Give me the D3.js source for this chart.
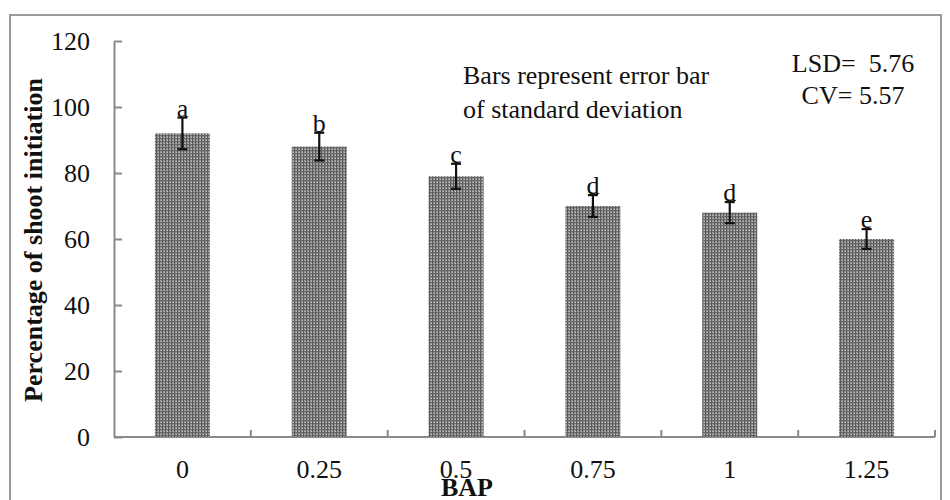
<!DOCTYPE html>
<html><head><meta charset="utf-8">
<script src="https://cdn.jsdelivr.net/npm/d3@7"></script>
<style>body{margin:0;background:#fff}svg{display:block} text{font-family:"Liberation Serif","Times New Roman","DejaVu Serif",serif !important;}</style>
</head><body>
<script>
const categories = ["0","0.25","0.5","0.75","1","1.25"];
const values = [92, 88, 79, 70, 68, 60];
const errors = [4.8, 4.2, 3.8, 3.3, 3.2, 3.0];
const letters = ["a","b","c","d","d","e"];
const yTicks = [0,20,40,60,80,100,120];

const W=950,H=500;
const svg=d3.select("body").append("svg").attr("width",W).attr("height",H);
const FS=26;

const defs=svg.append("defs");
const pat=defs.append("pattern").attr("id","dots").attr("patternUnits","userSpaceOnUse").attr("width",3).attr("height",3);
pat.append("rect").attr("width",3).attr("height",3).attr("fill","#949494");
pat.append("rect").attr("x",0).attr("y",0).attr("width",1).attr("height",3).attr("fill","#555");
pat.append("rect").attr("x",0).attr("y",0).attr("width",3).attr("height",1).attr("fill","#666");
pat.append("rect").attr("x",2).attr("y",2).attr("width",1).attr("height",1).attr("fill","#c4c4c4");

// outer frame
svg.append("rect").attr("x",10).attr("y",15).attr("width",931).attr("height",500)
  .attr("fill","none").attr("stroke","#9a9a9a").attr("stroke-width",2);

const x0=114,x1=935,yTop=41,yBot=437;
const xb=d3.scaleBand().domain(categories).range([x0,x1]);
const y=d3.scaleLinear().domain([0,120]).range([yBot,yTop]);

// y axis
const ya=svg.append("g").attr("transform",`translate(${x0},0)`)
  .call(d3.axisLeft(y).tickValues(yTicks).tickSizeInner(-8).tickSizeOuter(0).tickPadding(24));
ya.select(".domain").attr("stroke","#8a8a8a").attr("stroke-width",2);
ya.selectAll(".tick line").attr("stroke","#8a8a8a").attr("stroke-width",2);
ya.selectAll(".tick text").attr("font-size",FS).attr("fill","#111");

// x axis
const xa=svg.append("g").attr("transform",`translate(0,${yBot})`);
xa.append("line").attr("x1",x0).attr("x2",x1).attr("y1",0).attr("y2",0).attr("stroke","#8a8a8a").attr("stroke-width",2);
xa.selectAll("line.t").data(categories).enter().append("line").attr("class","t")
  .attr("x1",d=>xb(d)+xb.bandwidth()).attr("x2",d=>xb(d)+xb.bandwidth())
  .attr("y1",0).attr("y2",-7).attr("stroke","#8a8a8a").attr("stroke-width",2);
xa.selectAll("text").data(categories).enter().append("text")
  .attr("x",d=>xb(d)+xb.bandwidth()/2).attr("y",41).attr("text-anchor","middle")
  .attr("font-size",FS).attr("fill","#111").text(d=>d);

// bars
const bw=55;
svg.selectAll("rect.bar").data(values).enter().append("rect").attr("class","bar")
  .attr("x",(d,i)=>xb(categories[i])+xb.bandwidth()/2-bw/2).attr("width",bw)
  .attr("y",d=>y(d)).attr("height",d=>yBot-y(d)).attr("fill","url(#dots)");

// error bars
const eb=svg.append("g").attr("stroke","#111").attr("stroke-width",2.2);
values.forEach((v,i)=>{
  const cx=xb(categories[i])+xb.bandwidth()/2;
  eb.append("line").attr("x1",cx).attr("x2",cx).attr("y1",y(v+errors[i])).attr("y2",y(v-errors[i]));
  eb.append("line").attr("x1",cx-5).attr("x2",cx+5).attr("y1",y(v+errors[i])).attr("y2",y(v+errors[i]));
  eb.append("line").attr("x1",cx-5).attr("x2",cx+5).attr("y1",y(v-errors[i])).attr("y2",y(v-errors[i]));
});
svg.selectAll("text.let").data(letters).enter().append("text").attr("class","let")
  .attr("x",(d,i)=>xb(categories[i])+xb.bandwidth()/2)
  .attr("y",(d,i)=>y(values[i]+errors[i])-1).attr("text-anchor","middle")
  .attr("font-size",FS).attr("fill","#111").text(d=>d);

// titles
svg.append("text").attr("transform","translate(42,240) rotate(-90)").attr("text-anchor","middle")
  .attr("font-size",FS).attr("font-weight","bold").attr("fill","#111")
  .text("Percentage of shoot initiation");
svg.append("text").attr("x",467).attr("y",496).attr("text-anchor","middle")
  .attr("font-size",FS).attr("font-weight","bold").attr("fill","#111").text("BAP");

// annotations
const ann=svg.append("g").attr("font-size",FS).attr("fill","#111");
ann.append("text").attr("x",463).attr("y",84).text("Bars represent error bar");
ann.append("text").attr("x",463).attr("y",118).text("of standard deviation");
ann.append("text").attr("x",853).attr("y",72).attr("text-anchor","middle").attr("xml:space","preserve").text("LSD=  5.76");
ann.append("text").attr("x",853).attr("y",104).attr("text-anchor","middle").text("CV= 5.57");
</script>
</body></html>
